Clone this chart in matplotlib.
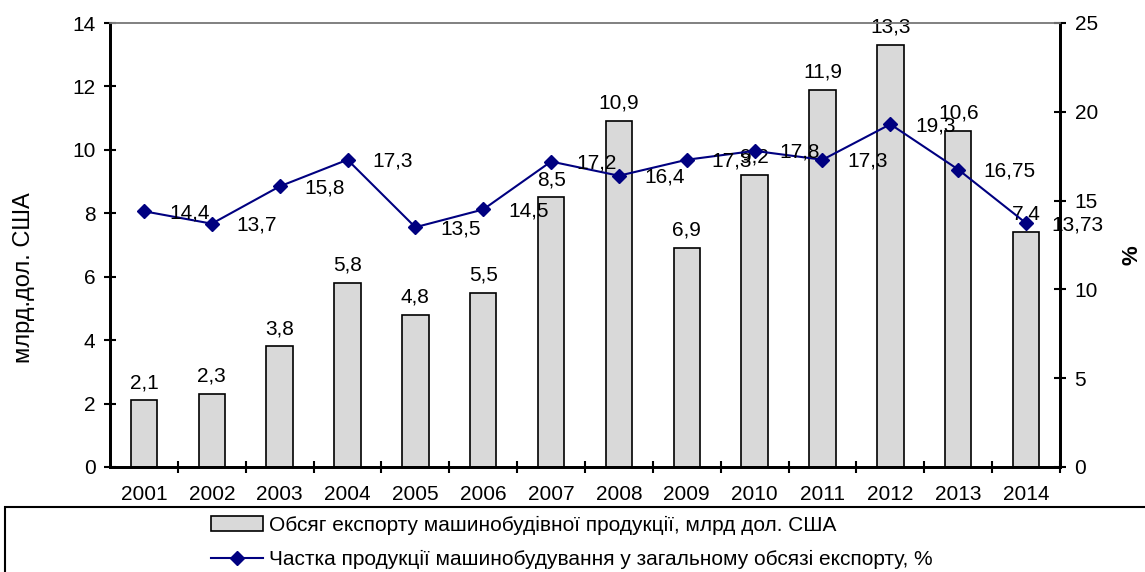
import numpy as np
import matplotlib
matplotlib.use("Agg")
import matplotlib.pyplot as plt
from matplotlib.patches import Rectangle, Patch
from matplotlib.lines import Line2D

plt.rcParams['font.family'] = ['Liberation Sans', 'DejaVu Sans']

years = ['2001', '2002', '2003', '2004', '2005', '2006', '2007',
         '2008', '2009', '2010', '2011', '2012', '2013', '2014']
export_bn = [2.1, 2.3, 3.8, 5.8, 4.8, 5.5, 8.5, 10.9, 6.9, 9.2, 11.9, 13.3, 10.6, 7.4]
share_pct = [14.4, 13.7, 15.8, 17.3, 13.5, 14.5, 17.2, 16.4, 17.3, 17.8, 17.3, 19.3, 16.75, 13.73]

bar_name = 'Обсяг експорту машинобудівної продукції, млрд дол. США'
line_name = 'Частка продукції машинобудування у загальному обсязі експорту, %'

def fmt(v):
    return ('%g' % v).replace('.', ',')

fig = plt.figure(figsize=(11.45, 5.72), dpi=100)
ax = fig.add_axes([110 / 1145, 1 - 467 / 572, 950 / 1145, 444 / 572])
ax2 = ax.twinx()

x = np.arange(len(years))
fs = 15

ax.bar(x, export_bn, width=0.39, color='#d9d9d9', edgecolor='black', linewidth=1.2, zorder=2)
for xi, v in zip(x, export_bn):
    ax.annotate(fmt(v), (xi, v), xytext=(0, 6), textcoords='offset points',
                ha='center', va='bottom', fontsize=fs)

ax.set_xlim(-0.5, len(years) - 0.5)
ax.set_ylim(0, 14)
ax.set_yticks(np.arange(0, 15, 2))
ax.set_xticks(x)
ax.set_xticklabels(years, fontsize=fs)
ax.set_xticks(np.arange(0.5, len(years), 1), minor=True)
ax.tick_params(axis='x', which='major', length=0, pad=13)
ax.tick_params(axis='x', which='minor', direction='inout', length=9, width=1.5)
ax.tick_params(axis='y', direction='inout', length=9, width=1.5, labelsize=fs, pad=6)

ax2.plot(x, share_pct, color='#000080', linewidth=1.5, marker='D', markersize=7.5, zorder=3)
for xi, v in zip(x, share_pct):
    ax2.annotate(fmt(v), (xi, v), xytext=(18, -1), textcoords='offset points',
                 ha='left', va='center', fontsize=fs)
ax2.set_ylim(0, 25)
ax2.set_yticks(np.arange(0, 26, 5))
ax2.tick_params(axis='y', direction='inout', length=9, width=1.5, labelsize=fs, pad=6)

for a in (ax, ax2):
    a.spines['left'].set_linewidth(2)
    a.spines['bottom'].set_linewidth(2)
    a.spines['right'].set_linewidth(2)
    a.spines['top'].set_color('#808080')
    a.spines['top'].set_linewidth(1.2)

fig.text(24 / 1145, 1 - 278 / 572, 'млрд.дол. США', rotation=90, ha='center', va='center', fontsize=17)
fig.text(1132 / 1145, 1 - 255 / 572, '%', rotation=90, ha='center', va='center',
         fontsize=16, fontweight='bold')

# legend box, cut off at the right and bottom edges like the source
fig.patches.append(Rectangle((5 / 1145, -0.05), 1.1, 0.05 + (572 - 507) / 572,
                             transform=fig.transFigure, fill=False, edgecolor='black',
                             linewidth=1.5, clip_on=False))
handles = [Patch(facecolor='#d9d9d9', edgecolor='black', linewidth=1.2),
           Line2D([], [], color='#000080', linewidth=1.5, marker='D', markersize=7.5)]
fig.legend(handles, [bar_name, line_name], loc='upper left',
           bbox_to_anchor=(196 / 1145, 1 - 501 / 572), frameon=False, fontsize=15,
           handlelength=2.5, handletextpad=0.3, labelspacing=0.73, borderpad=0.2)

fig.savefig('out.png', dpi=100)
